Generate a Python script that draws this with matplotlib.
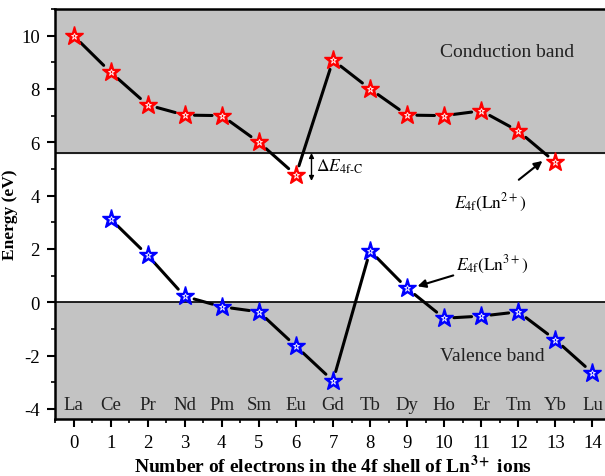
import matplotlib.pyplot as plt
from matplotlib.ticker import MultipleLocator

# Datos
n_electrones = list(range(15))
elementos = ['La', 'Ce', 'Pr', 'Nd', 'Pm', 'Sm', 'Eu', 'Gd', 'Tb', 'Dy', 'Ho', 'Er', 'Tm', 'Yb', 'Lu']
e_ln2 = [10.0, 8.63, 7.4, 7.02, 7.0, 6.0, 4.77, 9.08, 8.0, 7.02, 7.0, 7.18, 6.42, 5.25]
x_ln3 = list(range(1, 15))
e_ln3 = [3.12, 1.76, 0.22, -0.17, -0.36, -1.65, -2.95, 1.93, 0.52, -0.6, -0.52, -0.36, -1.41, -2.65]
banda_c = 5.6
banda_v = 0.0

plt.rcParams['font.family'] = ['Liberation Serif', 'DejaVu Serif']
plt.rcParams['mathtext.fontset'] = 'stix'
plt.rcParams['axes.unicode_minus'] = False

fig = plt.figure(figsize=(6.05, 4.77), dpi=100)
ax = fig.add_axes([55 / 605, 57 / 477, 556 / 605, 410 / 477])
ax.set_xlim(-0.5, 14.5)
ax.set_ylim(-4.38, 11.0)

# Bandas
ax.axhspan(banda_c, 11.0, color='#c3c3c3', zorder=0)
ax.axhspan(-4.38, banda_v, color='#c3c3c3', zorder=0)
ax.axhline(banda_c, color='black', lw=1.2, zorder=1)
ax.axhline(banda_v, color='black', lw=1.2, zorder=1)

# Líneas con hueco junto a los símbolos (estilo Origin)
def unir(xs, ys):
    for i in range(len(xs) - 1):
        ax.annotate('', xy=(xs[i + 1], ys[i + 1]), xytext=(xs[i], ys[i]),
                    arrowprops=dict(arrowstyle='-', lw=2.2, color='black',
                                    shrinkA=7, shrinkB=7), zorder=2)

unir(n_electrones[:14], e_ln2)
unir(x_ln3, e_ln3)

# Estrellas
ax.plot(n_electrones[:14], e_ln2, ls='none', marker='*', ms=14, color='red', mec='red', zorder=3)
ax.plot(n_electrones[:14], e_ln2, ls='none', marker='*', ms=5, mfc='none', mec='white', mew=0.6, zorder=4)
ax.plot(x_ln3, e_ln3, ls='none', marker='*', ms=14, color='blue', mec='blue', zorder=3)
ax.plot(x_ln3, e_ln3, ls='none', marker='*', ms=5, mfc='none', mec='white', mew=0.6, zorder=4)

# Nombres de los elementos
for x, nombre in zip(n_electrones, elementos):
    ax.text(x, -3.85, nombre, ha='center', va='center', fontsize=13.5, color='#222222')

ax.text(11.7, 9.4, 'Conduction band', ha='center', va='center', fontsize=14, color='#222222')
ax.text(11.3, -2.0, 'Valence band', ha='center', va='center', fontsize=14, color='#222222')

# Anotaciones
ax.annotate('', xy=(6.42, banda_c), xytext=(6.42, 4.55),
            arrowprops=dict(arrowstyle='<|-|>', lw=1, color='black', mutation_scale=7,
                            shrinkA=0, shrinkB=0))
ax.text(6.55, 5.1, r'$\Delta E_{\rm 4f\text{-}C}$', ha='left', va='center', fontsize=12.5)

ax.annotate(r'$E_{\rm 4f}(\rm Ln^{2+})$', xy=(12.65, 5.3), xytext=(11.25, 3.75),
            ha='center', va='center', fontsize=12.5,
            arrowprops=dict(arrowstyle='-|>', lw=1.5, color='black', mutation_scale=12,
                            shrinkA=10, shrinkB=0))
ax.annotate(r'$E_{\rm 4f}(\rm Ln^{3+})$', xy=(9.28, 0.6), xytext=(11.3, 1.45),
            ha='center', va='center', fontsize=12.5,
            arrowprops=dict(arrowstyle='-|>', lw=1.5, color='black', mutation_scale=12,
                            shrinkA=30, shrinkB=0))

# Ejes
ax.xaxis.set_major_locator(MultipleLocator(1))
ax.xaxis.set_minor_locator(MultipleLocator(0.5))
ax.yaxis.set_major_locator(MultipleLocator(2))
ax.yaxis.set_minor_locator(MultipleLocator(1))
ax.tick_params(which='major', direction='out', length=6, width=1.5, labelsize=13.5, pad=5)
ax.tick_params(which='minor', direction='out', length=3, width=1.2)
for s in ax.spines.values():
    s.set_linewidth(1.8)

ax.set_xlabel(r'Number of electrons in the 4f shell of Ln$^{\mathbf{3+}}$ ions',
              fontsize=14, fontweight='bold', labelpad=2)
ax.set_ylabel('Energy (eV)', fontsize=12.5, fontweight='bold', labelpad=2)

fig.savefig('out.png', dpi=100)
